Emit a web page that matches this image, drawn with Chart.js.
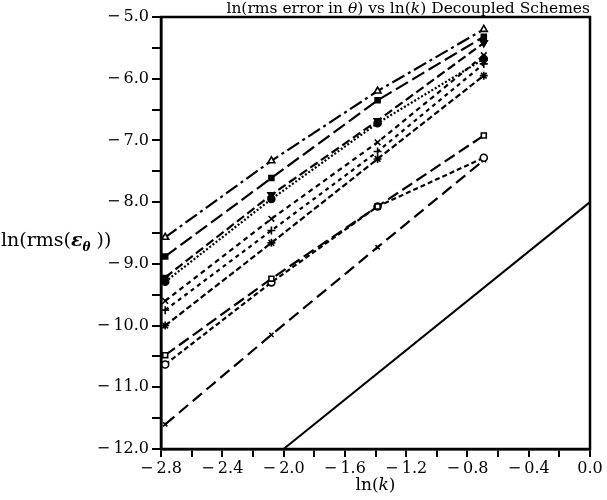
<!DOCTYPE html>
<html>
<head>
<meta charset="utf-8">
<script src="https://cdn.jsdelivr.net/npm/chart.js@4/dist/chart.umd.min.js"></script>
<style>
  html, body { margin: 0; padding: 0; background: #fff; }
  #wrap { width: 607px; height: 500px; }
</style>
</head>
<body>
<div id="wrap"><canvas id="c" width="607" height="500"></canvas></div>
<script>
// ln(k) for k = 1/16, 1/8, 1/4, 1/2
const lnK = [-2.7726, -2.0794, -1.3863, -0.6931];

// ln(rms error) per scheme
const sTriangle = [-8.57, -7.33, -6.20, -5.20];
const sSquareFill = [-8.88, -7.61, -6.35, -5.32];
const sTriDown = [-9.22, -7.88, -6.68, -5.42];
const sDot = [-9.29, -7.95, -6.72, -5.68];
const sCrossX = [-9.60, -8.27, -7.03, -5.62];
const sPlus = [-9.75, -8.46, -7.18, -5.76];
const sStar = [-10.00, -8.66, -7.30, -5.95];
const sSquare = [-10.48, -9.24, -8.07, -6.92];
const sCircle = [-10.63, -9.30, -8.07, -7.28];
const sLow = [-11.60, -10.15, -8.73, -7.32];

// slope-2 reference line
const refX = [-2.0, 0.0];
const refY = [-12.0, -8.0];

const serif = '"DejaVu Serif", "Liberation Serif", serif';

function pts(xs, ys) {
  return xs.map((x, i) => ({ x: x, y: ys[i] }));
}

function series(ys, style, fill, dash, extra) {
  return Object.assign({
    data: pts(lnK, ys),
    showLine: true,
    borderColor: '#000',
    borderWidth: 2.2,
    borderDash: dash,
    pointStyle: style,
    pointRadius: 4,
    pointBorderWidth: 1.6,
    pointBorderColor: '#000',
    pointBackgroundColor: fill ? '#000' : '#fff'
  }, extra || {});
}

// draws a run of text pieces with their own fonts
function rich(ctx, parts, x, y, align) {
  let w = 0;
  parts.forEach(p => { ctx.font = p[1]; w += ctx.measureText(p[0]).width; });
  let cx = align === 'right' ? x - w : align === 'center' ? x - w / 2 : x;
  parts.forEach(p => {
    ctx.font = p[1];
    ctx.fillText(p[0], cx, y + (p[2] || 0));
    cx += ctx.measureText(p[0]).width;
  });
}

const decor = {
  id: 'decor',
  afterDraw(chart) {
    const { ctx, chartArea: a } = chart;
    ctx.save();
    ctx.strokeStyle = '#000';
    ctx.lineWidth = 2.5;
    ctx.strokeRect(a.left, a.top, a.right - a.left, a.bottom - a.top);
    ctx.fillStyle = '#000';
    ctx.textBaseline = 'alphabetic';
    const up = '15.5px ' + serif;
    const it = 'italic 15.5px ' + serif;
    rich(ctx, [
      ['ln(rms error in ', up], ['θ', it], [') vs ln(', up], ['k', it], [') Decoupled Schemes', up]
    ], a.right, 13, 'right');
    const yl = '19px ' + serif;
    rich(ctx, [
      ['ln(rms(', yl], ['ε', 'italic bold 19px ' + serif], ['θ', 'italic bold 12px ' + serif, 5], [' ))', yl]
    ], 1, 246, 'left');
    rich(ctx, [['ln(', '17px ' + serif], ['k', 'italic 17px ' + serif], [')', '17px ' + serif]],
      (a.left + a.right) / 2, 490, 'center');
    ctx.restore();
  }
};

function fmt(v) {
  const s = Math.abs(v).toFixed(1);
  return v < -1e-9 ? '\u2212\u2009' + s : s;
}

new Chart(document.getElementById('c'), {
  type: 'scatter',
  data: {
    datasets: [
      series(sTriangle, 'triangle', false, [14, 4, 3, 4]),
      series(sSquareFill, 'rect', true, [14, 5], { pointRadius: 3.5 }),
      series(sTriDown, 'triangle', true, [9, 4], { pointRotation: 180 }),
      series(sDot, 'circle', true, [2, 2], { pointRadius: 3.5 }),
      series(sCrossX, 'crossRot', false, [5, 4]),
      series(sPlus, 'cross', false, [4, 4]),
      series(sStar, 'star', false, [6, 3]),
      series(sSquare, 'rect', false, [12, 5], { pointRadius: 3.5 }),
      series(sCircle, 'circle', false, [5, 3], { pointRadius: 3.5 }),
      series(sLow, 'crossRot', false, [12, 6], { pointRadius: 3 }),
      {
        data: pts(refX, refY),
        showLine: true,
        borderColor: '#000',
        borderWidth: 2,
        pointRadius: 0
      }
    ]
  },
  options: {
    responsive: false,
    animation: false,
    layout: { padding: { left: 0, right: 17, top: 17, bottom: 0 } },
    plugins: {
      legend: { display: false },
      tooltip: { enabled: false }
    },
    scales: {
      x: {
        type: 'linear',
        min: -2.8,
        max: 0,
        afterFit: s => { s.height = 51; },
        border: { display: true, color: '#000', width: 2.5 },
        grid: { drawOnChartArea: false, drawTicks: true, tickLength: 8, color: '#000', lineWidth: 2 },
        ticks: {
          stepSize: 0.2,
          autoSkip: false,
          maxRotation: 0,
          padding: 2,
          color: '#000',
          font: { family: serif, size: 16 },
          callback: v => (Math.abs(v / 0.4 - Math.round(v / 0.4)) < 1e-6 ? fmt(v) : '')
        }
      },
      y: {
        type: 'linear',
        min: -12,
        max: -5,
        afterFit: s => { s.width = 161; },
        border: { display: true, color: '#000', width: 2.5 },
        grid: { drawOnChartArea: false, drawTicks: true, tickLength: 9, color: '#000', lineWidth: 2 },
        ticks: {
          stepSize: 0.5,
          autoSkip: false,
          padding: 3,
          color: '#000',
          font: { family: serif, size: 16 },
          callback: v => (Math.abs(v - Math.round(v)) < 1e-6 ? fmt(v) : '')
        }
      }
    }
  },
  plugins: [decor]
});
</script>
</body>
</html>
